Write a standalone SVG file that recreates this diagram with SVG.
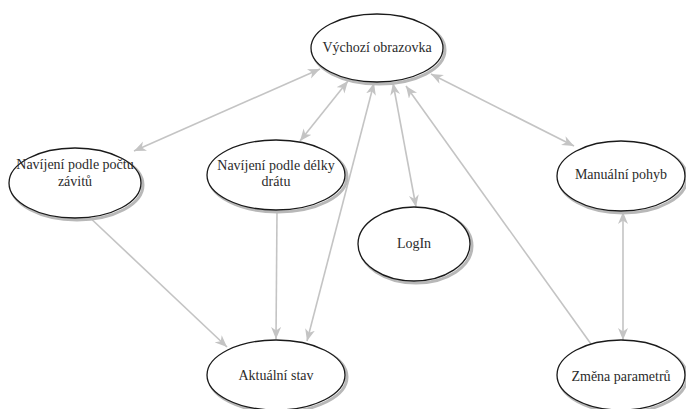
<svg xmlns="http://www.w3.org/2000/svg" width="686" height="409" viewBox="0 0 686 409">
  <style>
    .shadow { fill: none; stroke: #b8b8b8; stroke-width: 3; }
    .node { fill: #ffffff; stroke: #1a1a1a; stroke-width: 1.3; }
    .label { font-family: "Liberation Serif", "DejaVu Serif", serif; font-size: 14px; fill: #2b2b2b; text-anchor: middle; }
    .edge { stroke: #c4c4c4; stroke-width: 1.6; fill: none; }
  </style>
  <defs>
    <marker id="arrow" markerUnits="userSpaceOnUse" markerWidth="13" markerHeight="11" refX="12" refY="5" orient="auto-start-reverse">
      <path d="M0,0 L12,5 L0,10 L3.5,5 Z" fill="#c4c4c4"/>
    </marker>
  </defs>
  <rect width="686" height="409" fill="#ffffff"/>

  <g id="connectors">
    <line class="edge" x1="320" y1="69" x2="134" y2="151" marker-start="url(#arrow)" marker-end="url(#arrow)"/>
    <line class="edge" x1="348" y1="81" x2="300" y2="141" marker-start="url(#arrow)" marker-end="url(#arrow)"/>
    <line class="edge" x1="374" y1="83" x2="307" y2="341" marker-start="url(#arrow)" marker-end="url(#arrow)"/>
    <line class="edge" x1="393" y1="83" x2="416" y2="207" marker-start="url(#arrow)" marker-end="url(#arrow)"/>
    <line class="edge" x1="591" y1="344" x2="406" y2="86" marker-end="url(#arrow)"/>
    <line class="edge" x1="431" y1="74" x2="574" y2="146" marker-start="url(#arrow)" marker-end="url(#arrow)"/>
    <line class="edge" x1="85" y1="213" x2="227" y2="347" marker-end="url(#arrow)"/>
    <line class="edge" x1="277" y1="211" x2="276" y2="339" marker-end="url(#arrow)"/>
    <line class="edge" x1="623" y1="212" x2="623" y2="340" marker-start="url(#arrow)" marker-end="url(#arrow)"/>
  </g>

  <g id="vychozi-obrazovka">
    <ellipse class="shadow" cx="379" cy="50" rx="66" ry="34"/>
    <ellipse class="node" cx="377" cy="48" rx="66" ry="34"/>
    <text class="label" x="377" y="52">Výchozí obrazovka</text>
  </g>

  <g id="navijeni-pocet">
    <ellipse class="shadow" cx="77" cy="185" rx="66" ry="35"/>
    <ellipse class="node" cx="75" cy="183" rx="66" ry="35"/>
    <text class="label" x="75" y="169">Navíjení podle počtu</text>
    <text class="label" x="75" y="186">závitů</text>
  </g>

  <g id="navijeni-delka">
    <ellipse class="shadow" cx="278" cy="177" rx="69" ry="35"/>
    <ellipse class="node" cx="276" cy="175" rx="69" ry="35"/>
    <text class="label" x="276" y="170">Navíjení podle délky</text>
    <text class="label" x="276" y="186">drátu</text>
  </g>

  <g id="login">
    <ellipse class="shadow" cx="416" cy="246" rx="56" ry="37"/>
    <ellipse class="node" cx="414" cy="244" rx="56" ry="37"/>
    <text class="label" x="414" y="248">LogIn</text>
  </g>

  <g id="manualni-pohyb">
    <ellipse class="shadow" cx="623" cy="178" rx="64" ry="35"/>
    <ellipse class="node" cx="621" cy="176" rx="64" ry="35"/>
    <text class="label" x="621" y="179">Manuální pohyb</text>
  </g>

  <g id="aktualni-stav">
    <ellipse class="shadow" cx="278" cy="377" rx="69" ry="35"/>
    <ellipse class="node" cx="276" cy="375" rx="69" ry="35"/>
    <text class="label" x="276" y="380">Aktuální stav</text>
  </g>

  <g id="zmena-parametru">
    <ellipse class="shadow" cx="623" cy="377" rx="64" ry="35"/>
    <ellipse class="node" cx="621" cy="375" rx="64" ry="35"/>
    <text class="label" x="621" y="381">Změna parametrů</text>
  </g>
</svg>
